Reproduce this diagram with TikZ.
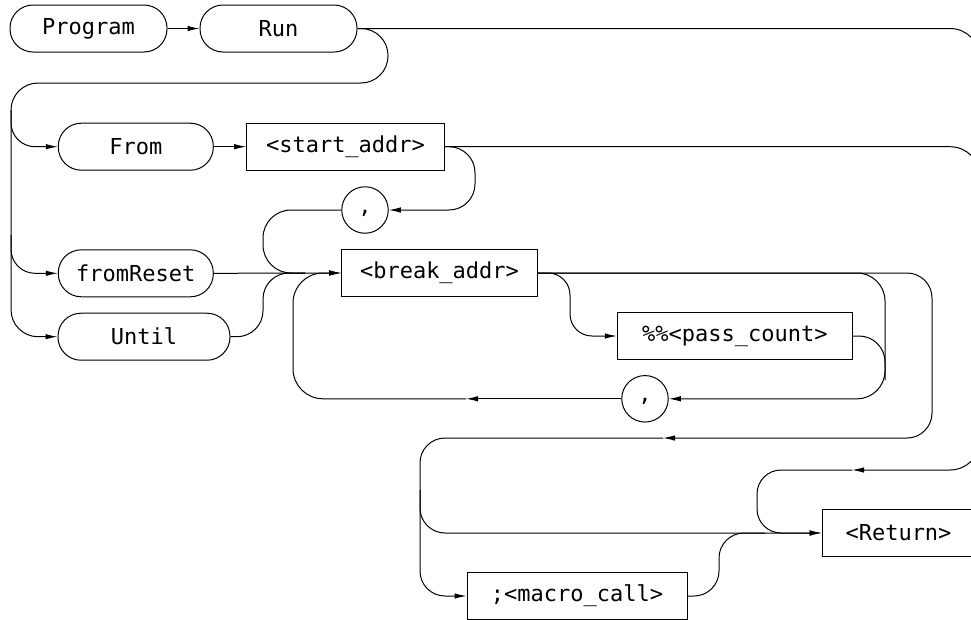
\documentclass[tikz,border=0pt]{standalone}
\usepackage{fontspec}
\setmainfont{DejaVu Sans Mono}
\usetikzlibrary{arrows.meta}
\tikzset{
  term/.style={draw, rectangle, rounded corners=23pt, minimum height=47pt, inner sep=0pt},
  sbox/.style={draw, rectangle, minimum height=47pt, inner sep=0pt},
  ring/.style={draw, circle, minimum size=46.5pt, inner sep=0pt, text height=0pt, text depth=0pt},
  tip/.style={-{Latex[length=12pt,width=5.5pt]}}
}
\begin{document}
\begin{tikzpicture}[x=1pt,y=-1pt,line width=1pt,font=\fontsize{22}{26}\selectfont]
\clip (0,0) rectangle (971,619);
% nodes
\node[term, minimum width=157pt] (prog) at (88.5,28.5) {Program};
\node[term, minimum width=157pt] (run) at (278.5,28.5) {Run};
\node[term, minimum width=155pt] (from) at (135.8,146.7) {From};
\node[sbox, minimum width=197.6pt] (start) at (345.5,146.7) {<start\_addr>};
\node[ring] (c1) at (365,210) {\raisebox{-3pt}{,}};
\node[term, minimum width=155pt] (frs) at (135.8,273.3) {fromReset};
\node[term, minimum width=172pt] (until) at (144,336.7) {Until};
\node[sbox, minimum width=195.6pt] (brk) at (439.5,273) {<break\_addr>};
\node[sbox, minimum width=235pt] (pass) at (734.8,336) {\%\%<pass\_count>};
\node[ring] (c2) at (645,398.8) {\raisebox{-3pt}{,}};
\node[sbox, minimum width=220pt] (mac) at (577,596) {;<macro\_call>};
\node[sbox, minimum width=153pt] (ret) at (898.5,533) {<Return>};
% coordinates
\coordinate (bf) at (11,110);
\coordinate (bfr) at (11,235);
\coordinate (J) at (305,273);
\coordinate (m1) at (466,398.8);
\coordinate (m2) at (663,438);
\coordinate (m3) at (852,470);
\coordinate (bret) at (420,490);
\coordinate (jr) at (765,533);
% connectors
\draw[tip] (prog.east) -- (run.west);
\draw[tip, rounded corners=30pt] (run.east) -- (980,28.5) -- (980,470) -- (m3);
\draw[tip, rounded corners=24pt] (m3) -- (757,470) -- (757,533) -- (ret.west);
\draw[rounded corners=30pt] (start.east) -- (980,146.7) -- (980,260);
\draw[tip, rounded corners=27pt] (run.east) -- (388,28.5) -- (388,83) -- (11,83) -- (11,336.7) -- (until.west);
\draw[tip, rounded corners=24pt] (bf) -- (11,146.7) -- (from.west);
\draw[tip, rounded corners=24pt] (bfr) -- (11,273.3) -- (frs.west);
\draw[tip] (from.east) -- (start.west);
\draw[tip, rounded corners=26pt] (start.east) -- (475,146.7) -- (475,210) -- (c1.east);
\draw[rounded corners=28pt] (c1.west) -- (263,210) -- (263,273) -- (J);
\draw[rounded corners=26pt] (until.east) -- (263,336.7) -- (263,273) -- (J);
\draw[tip] (frs.east) -- (brk.west);
\draw[tip, rounded corners=22pt] (brk.east) -- (570,273) -- (570,336) -- (pass.west);
\draw[tip, rounded corners=28pt] (brk.east) -- (885,273) -- (885,398.8) -- (c2.east);
\draw[rounded corners=26pt] (pass.east) -- (885,336) -- (885,380);
\draw[tip] (c2.west) -- (m1);
\draw[tip, rounded corners=30pt] (m1) -- (293,398.8) -- (293,273) -- (brk.west);
\draw[tip, rounded corners=25pt] (brk.east) -- (932,273) -- (932,438) -- (m2);
\draw[tip, rounded corners=25pt] (m2) -- (420,438) -- (420,596) -- (mac.west);
\draw[tip, rounded corners=25pt] (bret) -- (420,533) -- (ret.west);
\draw[rounded corners=25pt] (mac.east) -- (719,596) -- (719,533) -- (jr);
\end{tikzpicture}
\end{document}
